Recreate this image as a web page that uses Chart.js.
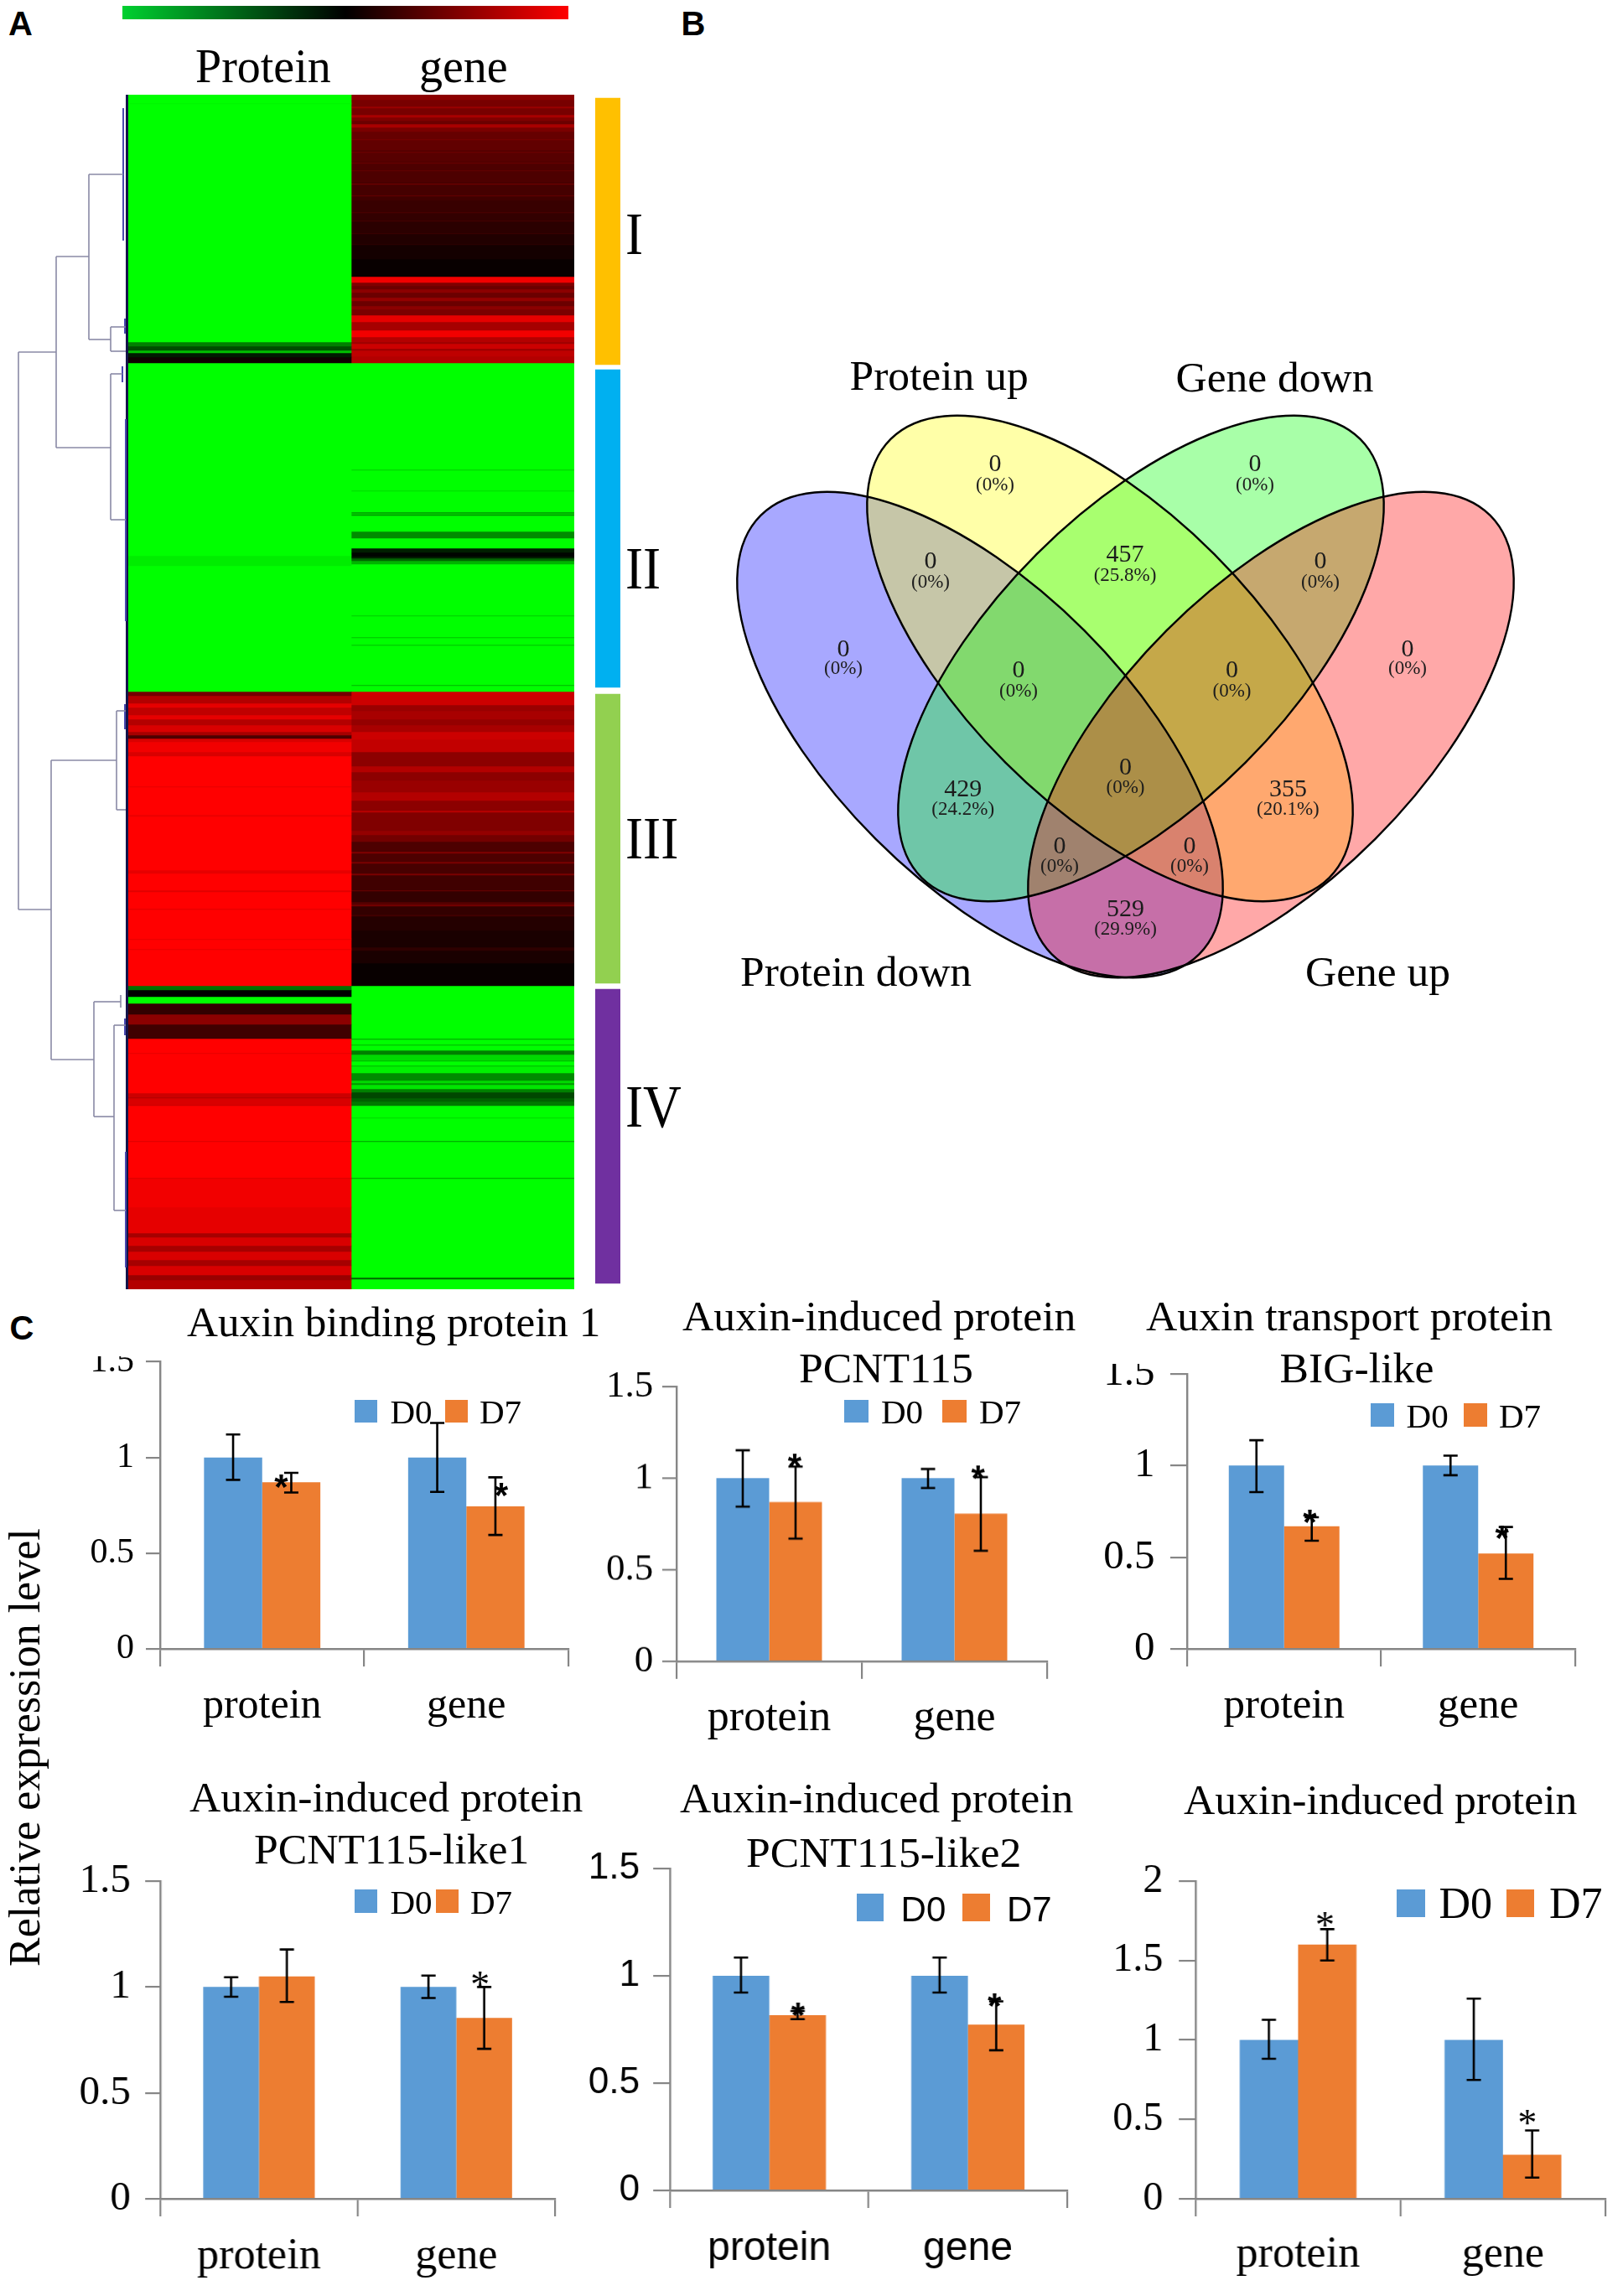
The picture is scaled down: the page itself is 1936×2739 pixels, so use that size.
<!DOCTYPE html>
<html>
<head>
<meta charset="utf-8">
<title>Protein and gene expression</title>
<script src="https://cdn.jsdelivr.net/npm/chart.js@4/dist/chart.umd.min.js"></script>
<style>
html,body{margin:0;padding:0;background:#fff;}
#page{position:relative;width:1936px;height:2739px;overflow:hidden;background:#fff;}
#page canvas{position:absolute;}
.txt{position:absolute;white-space:pre;color:#000;}
.swatch{position:absolute;}
</style>
</head>
<body>
<div id="page"></div>
<script>
// heatmap, bands are [first row, value], a band runs up to the next one
var heatRowCount = 1425;
var heatColumns = ["Protein", "gene"];
var proteinBands = [
	[0,-1],[10,-.96],[11,-1],[295,-.5],[300,-.3],[305,-.75],[308,-.1],[313,.06],
	[320,-1],[550,-.93],[562,-1],
	[712,.45],[717,.7],[726,.9],[731,.75],[740,.9],[745,.7],[752,.85],[760,.65],[764,.3],[768,.85],[772,.95],[784,.85],[789,1],
	[825,.9],[826,1],[859,.92],[861,1],[925,.9],[929,1],[949,.88],[951,1],[971,.88],[972,1],[1007,.9],[1008,1],[1019,.9],[1020,1],
	[1063,-.45],[1068,0],[1076,-1],[1084,.2],[1097,.55],[1109,.25],[1126,1],[1143,.9],[1144,1],[1191,.8],[1196,.7],[1197,.85],[1205,.8],[1206,1],
	[1248,.85],[1249,1],[1292,.85],[1293,.95],[1327,.9],[1358,.65],[1363,.85],[1373,.65],[1380,.85],[1390,.65],[1397,.85],[1408,.6],[1414,.7]
];
var geneBands = [
	[0,.55],[6,.47],[14,.6],[16,.47],[24,.66],[27,.5],[31,.42],[35,.66],[39,.48],[44,.4],[53,.48],[54,.38],[66,.33],[68,.44],[69,.34],[79,.32],[81,.42],[82,.3],
	[90,.4],[91,.3],[104,.28],[106,.48],[107,.27],[120,.4],[121,.25],[126,.22],[140,.3],[141,.2],[150,.28],[151,.17],[165,.24],[166,.13],[178,.18],[179,.08],[196,.03],
	[217,.95],[224,.5],[228,.42],[232,.55],[236,.42],[242,.58],[246,.42],[252,.55],[256,.48],[263,.9],[271,.65],[281,.95],[289,.7],[295,.62],[297,.8],[303,.6],[305,.75],[312,.7],
	[320,-1],[447,-.8],[448,-1],[472,-.85],[473,-1],[498,-.55],[499,-.8],[501,-.55],[502,-1],[521,-.55],[529,-1],[541,-.12],[546,-.02],[551,-.12],[553,-.4],[556,-.7],[560,-1],
	[621,-.8],[622,-1],[647,-.75],[648,-1],[656,-.75],[657,-1],[704,-.7],[705,-1],
	[712,.8],[728,.6],[735,.66],[745,.58],[752,.66],[760,.8],[769,.76],[784,.55],[801,.7],[808,.55],[818,.6],[832,.7],[842,.55],[854,.72],[856,.5],[878,.58],[883,.45],
	[891,.3],[903,.5],[905,.3],[915,.48],[917,.28],[929,.48],[931,.25],[949,.42],[950,.2],[963,.34],[966,.45],[968,.2],[978,.26],[980,.14],[997,.1],[1017,.18],[1021,.1],[1036,.03],
	[1063,-1],[1126,-.6],[1127,-1],[1133,-.7],[1134,-1],[1140,-.5],[1145,-.85],[1152,-.7],[1153,-1],[1158,-.7],[1159,-.95],[1167,-.55],[1176,-.85],[1179,-.6],[1181,-.9],[1186,-.5],
	[1190,-.28],[1197,-.38],[1201,-.48],[1206,-1],[1220,-.85],[1221,-1],[1248,-.6],[1249,-1],[1292,-.6],[1293,-1],[1411,-.4],[1413,-1]
];
var colorbarColors = ["#00d030", "#000000", "#ff0000"];
var clusterNames = ["I", "II", "III", "IV"];
var clusterSpans = [[4,322],[328,707],[715,1060],[1067,1418]];
var clusterColors = ["#FFC000", "#00B0F0", "#92D050", "#7030A0"];

// dendrogram branches, x1 y1 x2 y2
var dendroGrey = [
	[22,420,22,1085],[22,420,67,420],[22,1085,61,1085],[67,306,67,534],[67,306,106,306],[67,534,132,534],
	[106,208,106,405],[106,208,147,208],[106,405,132,405],[132,390,132,419],[132,390,150,390],[132,419,150,419],
	[132,446,132,620],[132,446,146,446],[132,620,150,620],[61,907,61,1264],[61,907,139,907],[61,1264,112,1264],
	[139,848,139,966],[139,848,150,848],[139,966,150,966],[112,1195,112,1332],[112,1195,144,1195],[112,1332,136,1332],
	[144,1187,144,1202],[136,1223,136,1444],[136,1223,150,1223],[136,1444,150,1444]
];
var dendroBlue = [
	[147,129,147,287],[146,437,146,456],[150,500,150,741],[150,1374,150,1512],[149,380,149,398],[149,840,149,870],[149,1215,149,1235]
];

// venn
var vennNames = ["Protein down", "Protein up", "Gene down", "Gene up"];
var vennCenterX = [1169, 1324, 1361, 1516];
var vennCenterY = [876.5, 785.5, 785.5, 876.5];
var vennTilt = [45, 45, -45, -45];
var vennColors = ["rgba(0,0,255,.34)", "rgba(255,255,0,.34)", "rgba(0,255,0,.34)", "rgba(255,0,0,.34)"];
var vennLongRadius = 370;
var vennShortRadius = 176;
var vennCounts = ["0","0","0","0","0","457","0","0","0","429","355","0","0","0","529"];
var vennPercents = ["(0%)","(0%)","(0%)","(0%)","(0%)","(25.8%)","(0%)","(0%)","(0%)","(24.2%)","(20.1%)","(0%)","(0%)","(0%)","(29.9%)"];
var vennCountX = [1006,1187,1497,1679,1110,1342,1575,1215,1469.5,1148.7,1536.4,1342.5,1264,1419,1342.5];
var vennCountY = [775,554.6,554.6,775,670,662,670,800.5,800.5,942,942,916,1010,1010,1085];
var vennPercentY = [798,578.6,578.6,798,695,687,695,824.5,824.5,966,966,940,1034,1034,1109];

// bar panels
var barCategories = ["protein", "gene"];
var barSeries = ["D0", "D7"];

var binding1D0 = [1, 1];
var binding1D7 = [0.87, 0.745];
var binding1D0Err = [[0.883,1.12],[0.82,1.18]];
var binding1D7Err = [[0.817,0.92],[0.595,0.896]];
var binding1Stars = [[0.093,0.88],[1.171,0.838]];

var pcnt115D0 = [1, 1];
var pcnt115D7 = [0.869, 0.806];
var pcnt115D0Err = [[0.844,1.152],[0.946,1.05]];
var pcnt115D7Err = [[0.67,1.063],[0.603,1.005]];
var pcnt115Stars = [[0.138,1.103],[1.128,1.037]];

var bigLikeD0 = [1, 1];
var bigLikeD7 = [0.669, 0.52];
var bigLikeD0Err = [[0.855,1.138],[0.947,1.054]];
var bigLikeD7Err = [[0.59,0.718],[0.382,0.665]];
var bigLikeStars = [[0.133,0.727],[1.123,0.64]];

var like1D0 = [1, 1];
var like1D7 = [1.05, 0.854];
var like1D0Err = [[0.954,1.046],[0.948,1.054]];
var like1D7Err = [[0.929,1.177],[0.708,1]];
var like1Stars = [[1.12,1.046]];

var like2D0 = [1, 1];
var like2D7 = [0.816, 0.772];
var like2D0Err = [[0.922,1.085],[0.922,1.085]];
var like2D7Err = [[0.798,0.836],[0.653,0.881]];
var like2Stars = [[0.144,0.846],[1.134,0.889]];

var inducedD0 = [1, 1];
var inducedD7 = [1.6, 0.277];
var inducedD0Err = [[0.881,1.127],[0.748,1.26]];
var inducedD7Err = [[1.5,1.697],[0.133,0.43]];
var inducedStars = [[0.131,1.77],[1.119,0.52]];

var SERIF = '"Liberation Serif"';
var SANS = '"Liberation Sans"';
var BLUE = "#5B9BD5";
var ORANGE = "#ED7D31";
var page = document.getElementById("page");

Chart.defaults.animation = false;
Chart.defaults.responsive = false;
Chart.defaults.devicePixelRatio = 1;
Chart.defaults.plugins.legend.display = false;
Chart.defaults.plugins.tooltip.enabled = false;

function addCanvas(left, top, width, height) {
	var c = document.createElement("canvas");
	c.width = width;
	c.height = height;
	c.style.left = left + "px";
	c.style.top = top + "px";
	c.style.width = width + "px";
	c.style.height = height + "px";
	page.appendChild(c);
	return c;
}

// baseline positioned text
function addText(str, x, baseline, size, family, extra) {
	var d = document.createElement("div");
	d.className = "txt";
	d.textContent = str;
	var ascent = family == SANS ? 0.905 : 0.891;
	d.style.left = x + "px";
	d.style.top = (baseline - ascent * size) + "px";
	d.style.fontSize = size + "px";
	d.style.fontFamily = family;
	if (extra) {
		for (var k in extra) d.style[k] = extra[k];
	}
	page.appendChild(d);
	return d;
}

function addSwatch(left, top, right, bottom, color) {
	var d = document.createElement("div");
	d.className = "swatch";
	d.style.left = left + "px";
	d.style.top = top + "px";
	d.style.width = (right - left) + "px";
	d.style.height = (bottom - top) + "px";
	d.style.background = color;
	page.appendChild(d);
}

function heatColor(v) {
	var level = Math.round(Math.abs(v) * 255);
	return v >= 0 ? "rgb(" + level + ",0,0)" : "rgb(0," + level + ",0)";
}

function bandDatasets(bands, column) {
	var out = [];
	for (var i = 0; i < bands.length; i++) {
		var end = i + 1 < bands.length ? bands[i + 1][0] : heatRowCount;
		var data = [null, null];
		data[column] = [bands[i][0], end];
		out.push({data: data, backgroundColor: heatColor(bands[i][1]), grouped: false, barPercentage: 1, categoryPercentage: 1, borderWidth: 0});
	}
	return out;
}

// ---- A: colour scale
new Chart(addCanvas(146, 7, 532, 16), {
	type: "bar",
	data: {labels: ["scale"], datasets: [{
		data: [[-1, 1]],
		barPercentage: 1,
		categoryPercentage: 1,
		backgroundColor: function (ctx) {
			var a = ctx.chart.chartArea;
			if (!a) return "#000";
			var g = ctx.chart.ctx.createLinearGradient(a.left, 0, a.right, 0);
			g.addColorStop(0, colorbarColors[0]);
			g.addColorStop(0.5, colorbarColors[1]);
			g.addColorStop(1, colorbarColors[2]);
			return g;
		}
	}]},
	options: {indexAxis: "y", scales: {x: {display: false, min: -1, max: 1}, y: {display: false}}}
});

// ---- A: heatmap
new Chart(addCanvas(153, 113, 532, heatRowCount), {
	type: "bar",
	data: {labels: heatColumns, datasets: bandDatasets(proteinBands, 0).concat(bandDatasets(geneBands, 1))},
	options: {scales: {x: {display: false}, y: {display: false, reverse: true, min: 0, max: heatRowCount}}}
});

// ---- A: cluster strips
new Chart(addCanvas(710, 113, 30, heatRowCount), {
	type: "bar",
	data: {labels: ["cluster"], datasets: clusterSpans.map(function (s, i) {
		return {data: [s], backgroundColor: clusterColors[i], grouped: false, barPercentage: 1, categoryPercentage: 1};
	})},
	options: {scales: {x: {display: false}, y: {display: false, reverse: true, min: 0, max: heatRowCount}}}
});

// ---- A: dendrogram
function branchDatasets(list, color, width) {
	return list.map(function (b) {
		return {data: [{x: b[0], y: b[1]}, {x: b[2], y: b[3]}], showLine: true, pointRadius: 0, borderColor: color, borderWidth: width};
	});
}
var dendroEdge = [[151.5, 113, 151.5, 1538]];
new Chart(addCanvas(0, 113, 153, heatRowCount), {
	type: "scatter",
	data: {datasets: branchDatasets(dendroGrey, "#8a8aa6", 1.6).concat(branchDatasets(dendroBlue, "#4a4ab0", 2)).concat(branchDatasets(dendroEdge, "#14144a", 3))},
	options: {scales: {
		x: {display: false, min: 0, max: 153},
		y: {display: false, reverse: true, min: 113, max: 113 + heatRowCount}
	}}
});

// ---- B: venn
var vennPlugin = {
	id: "venn",
	beforeDatasetsDraw: function (chart) {
		var c = chart.ctx, sx = chart.scales.x, sy = chart.scales.y, i;
		function outline(i) {
			c.beginPath();
			c.ellipse(sx.getPixelForValue(vennCenterX[i]), sy.getPixelForValue(vennCenterY[i]), vennLongRadius, vennShortRadius, vennTilt[i] * Math.PI / 180, 0, Math.PI * 2);
		}
		for (i = 0; i < 4; i++) {
			outline(i);
			c.fillStyle = vennColors[i];
			c.fill();
		}
		c.strokeStyle = "#000";
		c.lineWidth = 2.4;
		for (i = 0; i < 4; i++) {
			outline(i);
			c.stroke();
		}
	},
	afterDatasetsDraw: function (chart) {
		var c = chart.ctx, sx = chart.scales.x, sy = chart.scales.y;
		c.save();
		c.textAlign = "center";
		c.textBaseline = "middle";
		c.fillStyle = "#1c1c1c";
		for (var i = 0; i < vennCounts.length; i++) {
			c.font = "30px " + SERIF;
			c.fillText(vennCounts[i], sx.getPixelForValue(vennCountX[i]), sy.getPixelForValue(vennCountY[i]));
			c.font = "23px " + SERIF;
			c.fillText(vennPercents[i], sx.getPixelForValue(vennCountX[i]), sy.getPixelForValue(vennPercentY[i]));
		}
		c.restore();
	}
};
new Chart(addCanvas(860, 480, 960, 700), {
	type: "scatter",
	data: {datasets: [{data: vennCountX.map(function (x, i) { return {x: x, y: vennCountY[i]}; }), pointRadius: 0}]},
	options: {scales: {x: {display: false, min: 860, max: 1820}, y: {display: false, reverse: true, min: 480, max: 1180}}},
	plugins: [vennPlugin]
});

// ---- C: bars with error bars and stars
var errorPlugin = {
	id: "errorBars",
	afterDatasetsDraw: function (chart, args, opts) {
		var c = chart.ctx, ys = chart.scales.y, xs = chart.scales.x;
		c.save();
		c.strokeStyle = "#000";
		c.lineWidth = 2.6;
		[opts.d0Err, opts.d7Err].forEach(function (errs, ds) {
			chart.getDatasetMeta(ds).data.forEach(function (bar, i) {
				var lo = ys.getPixelForValue(errs[i][0]), hi = ys.getPixelForValue(errs[i][1]);
				c.beginPath();
				c.moveTo(bar.x, lo); c.lineTo(bar.x, hi);
				c.moveTo(bar.x - 8.5, lo); c.lineTo(bar.x + 8.5, lo);
				c.moveTo(bar.x - 8.5, hi); c.lineTo(bar.x + 8.5, hi);
				c.stroke();
			});
		});
		c.fillStyle = "#000";
		c.textAlign = "center";
		c.textBaseline = "alphabetic";
		c.font = opts.starFont;
		opts.stars.forEach(function (s) {
			c.fillText("*", xs.getPixelForValue(s[0]), ys.getPixelForValue(s[1]) + opts.starDrop);
		});
		c.restore();
	}
};

function barPanel(p) {
	var yW = 125, xH = 115;
	var plotH = p.y0 - p.yTop;
	var canvasLeft = p.x0 - yW;
	var canvas = addCanvas(canvasLeft, p.yTop - p.padTop, p.x1 - canvasLeft + 6, p.padTop + plotH + xH);
	var tickFont = {family: p.family || SERIF, size: p.tickSize};
	var catFont = {family: p.family || SERIF, size: p.catSize};
	new Chart(canvas, {
		type: "bar",
		data: {labels: barCategories, datasets: [
			{label: barSeries[0], data: p.d0, backgroundColor: BLUE, barPercentage: 1, categoryPercentage: p.groupShare},
			{label: barSeries[1], data: p.d7, backgroundColor: ORANGE, barPercentage: 1, categoryPercentage: p.groupShare}
		]},
		options: {
			layout: {padding: {top: p.padTop, right: 6, left: 0, bottom: 0}},
			scales: {
				x: {
					// keep the plot box where it was measured, labels may overhang
					afterFit: function (s) { s.height = xH; s.paddingLeft = 0; s.paddingRight = 0; },
					border: {color: "#868686", width: 2.4},
					grid: {drawOnChartArea: false, color: "#868686", lineWidth: 2.2, tickLength: p.xTick},
					ticks: {color: "#000", font: catFont, maxRotation: 0, padding: p.catBaseline - p.y0 - p.xTick - 0.84 * p.catSize}
				},
				y: {
					min: 0,
					max: p.max,
					afterFit: function (s) { s.width = yW; s.paddingTop = 0; s.paddingBottom = 0; },
					border: {color: "#868686", width: 2.4},
					grid: {drawOnChartArea: false, color: "#868686", lineWidth: 2.2, tickLength: p.yTick},
					ticks: {color: "#000", font: tickFont, stepSize: 0.5, padding: p.x0 - p.yTick - p.tickRight, callback: function (v) { return "" + v; }}
				}
			},
			plugins: {errorBars: {d0Err: p.d0Err, d7Err: p.d7Err, stars: p.stars, starFont: p.starFont, starDrop: p.starDrop}}
		},
		plugins: [errorPlugin]
	});
	addSwatch(p.sw0[0], p.swTop, p.sw0[1], p.swBottom, BLUE);
	addSwatch(p.sw1[0], p.swTop, p.sw1[1], p.swBottom, ORANGE);
	addText(barSeries[0], p.t0, p.swBottom, p.legendSize, p.family || SERIF);
	addText(barSeries[1], p.t1, p.swBottom, p.legendSize, p.family || SERIF);
}

var boldStar = "bold 42px " + SANS;
var thinStar = "46px " + SERIF;

barPanel({x0: 191, x1: 678, y0: 1967, yTop: 1624.5, max: 1.5, padTop: 6.5, yTick: 17, xTick: 21, tickSize: 42, tickRight: 160, catSize: 50, catBaseline: 2048, groupShare: 0.57,
	d0: binding1D0, d7: binding1D7, d0Err: binding1D0Err, d7Err: binding1D7Err, stars: binding1Stars, starFont: boldStar, starDrop: 22,
	sw0: [423, 450], sw1: [530.6, 558], swTop: 1670, swBottom: 1697, t0: 465.5, t1: 572, legendSize: 41});
barPanel({x0: 806.8, x1: 1249.5, y0: 1981.7, yTop: 1654, max: 1.5, padTop: 30, yTick: 17, xTick: 21, tickSize: 45, tickRight: 779, catSize: 52, catBaseline: 2063, groupShare: 0.57,
	d0: pcnt115D0, d7: pcnt115D7, d0Err: pcnt115D0Err, d7Err: pcnt115D7Err, stars: pcnt115Stars, starFont: boldStar, starDrop: 22,
	sw0: [1007, 1036], sw1: [1124, 1153], swTop: 1670, swBottom: 1697, t0: 1051, t1: 1168, legendSize: 41});
barPanel({x0: 1415.5, x1: 1879.4, y0: 1967, yTop: 1638.8, max: 1.5, padTop: 12, yTick: 20, xTick: 21, tickSize: 49, tickRight: 1377, catSize: 51, catBaseline: 2047.5, groupShare: 0.57,
	d0: bigLikeD0, d7: bigLikeD7, d0Err: bigLikeD0Err, d7Err: bigLikeD7Err, stars: bigLikeStars, starFont: boldStar, starDrop: 22,
	sw0: [1634.6, 1663], sw1: [1746, 1774], swTop: 1674, swBottom: 1702, t0: 1677.6, t1: 1788, legendSize: 41});
barPanel({x0: 191.3, x1: 662, y0: 2623, yTop: 2244, max: 1.5, padTop: 30, yTick: 18, xTick: 21, tickSize: 49, tickRight: 156, catSize: 52, catBaseline: 2705, groupShare: 0.565,
	d0: like1D0, d7: like1D7, d0Err: like1D0Err, d7Err: like1D7Err, stars: like1Stars, starFont: thinStar, starDrop: 24,
	sw0: [423, 450], sw1: [520, 547], swTop: 2253.5, swBottom: 2281.5, t0: 465.5, t1: 561, legendSize: 41});
barPanel({x0: 799, x1: 1272.8, y0: 2613.5, yTop: 2228.6, max: 1.5, padTop: 30, yTick: 20, xTick: 21, tickSize: 44, tickRight: 763, catSize: 48, catBaseline: 2695, groupShare: 0.57, family: SANS,
	d0: like2D0, d7: like2D7, d0Err: like2D0Err, d7Err: like2D7Err, stars: like2Stars, starFont: boldStar, starDrop: 22,
	sw0: [1021.5, 1054], sw1: [1147.5, 1181], swTop: 2259, swBottom: 2292, t0: 1074.6, t1: 1201, legendSize: 42});
barPanel({x0: 1425.7, x1: 1914.6, y0: 2623, yTop: 2244, max: 2, padTop: 30, yTick: 20, xTick: 21, tickSize: 48, tickRight: 1387, catSize: 52, catBaseline: 2703, groupShare: 0.57,
	d0: inducedD0, d7: inducedD7, d0Err: inducedD0Err, d7Err: inducedD7Err, stars: inducedStars, starFont: thinStar, starDrop: 24,
	sw0: [1666, 1700], sw1: [1797, 1830], swTop: 2254, swBottom: 2287, t0: 1716.4, t1: 1848, legendSize: 52});

// ---- text
addText("A", 10, 42, 40, SANS, {fontWeight: "bold"});
addText("B", 812.6, 42, 40, SANS, {fontWeight: "bold"});
addText("C", 11.5, 1598, 40, SANS, {fontWeight: "bold"});

addText(heatColumns[0], 233, 97, 56, SERIF);
addText(heatColumns[1], 500, 97, 56, SERIF);
addText(clusterNames[0], 746, 302, 72, SERIF, {transform: "scaleX(.88)", transformOrigin: "0 0"});
addText(clusterNames[1], 746, 701, 72, SERIF, {transform: "scaleX(.88)", transformOrigin: "0 0"});
addText(clusterNames[2], 746, 1023, 72, SERIF, {transform: "scaleX(.88)", transformOrigin: "0 0"});
addText(clusterNames[3], 746, 1343, 72, SERIF, {transform: "scaleX(.88)", transformOrigin: "0 0"});

addText(vennNames[1], 1013.5, 464, 51.5, SERIF);
addText(vennNames[2], 1402.5, 466, 51.5, SERIF);
addText(vennNames[0], 883, 1175, 51.5, SERIF);
addText(vennNames[3], 1557, 1175, 51.5, SERIF);

addText("Auxin binding protein 1", 223, 1593, 51.2, SERIF);
addText("Auxin-induced protein", 814, 1586, 51.7, SERIF);
addText("PCNT115", 953, 1647.6, 51.7, SERIF);
addText("Auxin transport protein", 1367, 1586, 51.7, SERIF);
addText("BIG-like", 1526.6, 1647.6, 51.7, SERIF);
addText("Auxin-induced protein", 226, 2160, 51.7, SERIF);
addText("PCNT115-like1", 303, 2222, 51.7, SERIF);
addText("Auxin-induced protein", 811, 2161, 51.7, SERIF);
addText("PCNT115-like2", 890, 2226, 51.7, SERIF);
addText("Auxin-induced protein", 1412, 2163, 51.7, SERIF);

addText("Relative expression level", 0, 2345.5 + 0.891 * 52, 52, SERIF, {transform: "rotate(-90deg)", transformOrigin: "0 0"});
</script>
</body>
</html>
